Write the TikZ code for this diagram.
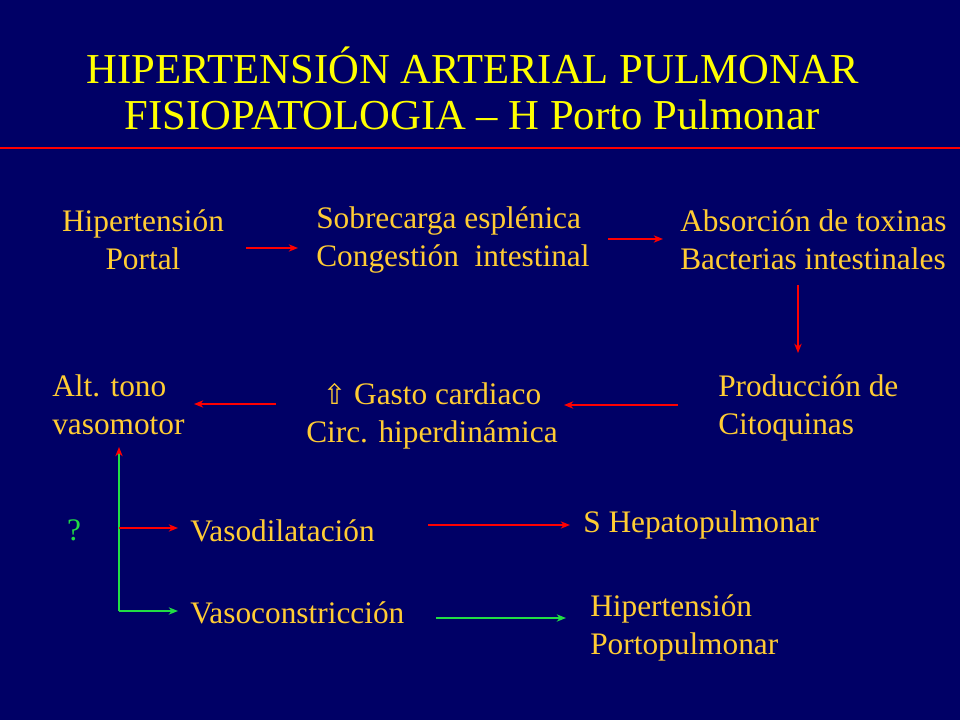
\documentclass[tikz,border=0pt]{standalone}
\usepackage{fontspec}
\setmainfont{Liberation Serif}
\newfontfamily\symfont{DejaVu Sans}
\usetikzlibrary{arrows.meta}
\definecolor{bg}{HTML}{000066}
\definecolor{ttlc}{HTML}{FFFF00}
\definecolor{txt}{HTML}{FFCC33}
\definecolor{ared}{HTML}{FF0000}
\definecolor{agrn}{HTML}{22DD44}
\begin{document}
\begin{tikzpicture}[x=0.75pt,y=-0.75pt,
  body/.style={text=txt, font=\fontsize{23.5}{28.5}\selectfont, inner sep=0pt},
  bodyl/.style={body, align=left, anchor=west},
  bodyc/.style={body, align=center},
  ttl/.style={text=ttlc, font=\fontsize{32}{37.5}\selectfont, inner sep=0pt},
  rarr/.style={draw=ared, line width=1pt, -{Stealth[length=7pt,width=5.5pt]}},
  garr/.style={draw=agrn, line width=1pt, -{Stealth[length=7pt,width=5.5pt]}},
  gup/.style={draw=agrn, line width=1pt, -{Stealth[length=7pt,width=5.5pt,color=ared,fill=ared]}}]
\fill[bg] (0,0) rectangle (960,720);
\useasboundingbox (0,0) rectangle (960,720);

% title
\node[ttl] (t1) at (473,65) {HIPERTENSIÓN ARTERIAL PULMONAR};
\node[ttl] (t2) at (472,115) {FISIOPATOLOGIA – H Porto Pulmonar};
\coordinate (la) at (0,148);
\coordinate (lb) at (960,148);
\draw[ared, line width=1pt] (la) -- (lb);

% row 1
\node[bodyc] (hp) at (143,240) {Hipertensión\\Portal};
\node[bodyl] (sob) at (316,240) {Sobrecarga esplénica\\Congestión\ \ intestinal};
\node[bodyl] (abs) at (680,240) {Absorción de toxinas\\Bacterias intestinales};

% row 2
\node[bodyl] (alt) at (52,405) {Alt. tono\\vasomotor};
\node[bodyc] (gas) at (432,416) {{\symfont\fontsize{21}{24}\selectfont ⇧} Gasto cardiaco\\Circ. hiperdinámica};
\node[bodyl] (pro) at (718,408) {Producción de\\Citoquinas};

% row 3
\node[body, text=agrn] (q) at (74,530) {?};
\node[bodyl] (vd) at (190,531) {Vasodilatación};
\node[bodyl] (vc) at (190,613) {Vasoconstricción};
\node[bodyl] (sh) at (583,525) {S Hepatopulmonar};
\node[bodyl] (hpp) at (590,628) {Hipertensión\\Portopulmonar};

% arrow coordinates
\coordinate (a1s) at (246,248); \coordinate (a1e) at (298,248);
\coordinate (a2s) at (608,239); \coordinate (a2e) at (663,239);
\coordinate (a3s) at (798,285); \coordinate (a3e) at (798,353);
\coordinate (a4s) at (678,405); \coordinate (a4e) at (564,405);
\coordinate (a5s) at (276,404); \coordinate (a5e) at (194,404);
\coordinate (gb) at (119,611); \coordinate (gt) at (119,447);
\coordinate (rb) at (119,528); \coordinate (re) at (178,528);
\coordinate (ge) at (178,611);
\coordinate (a6s) at (428,525); \coordinate (a6e) at (570,525);
\coordinate (a7s) at (436,618); \coordinate (a7e) at (566,618);

\draw[rarr] (a1s) -- (a1e);
\draw[rarr] (a2s) -- (a2e);
\draw[rarr] (a3s) -- (a3e);
\draw[rarr] (a4s) -- (a4e);
\draw[rarr] (a5s) -- (a5e);
\draw[gup] (gb) -- (gt);
\draw[garr] (gb) -- (ge);
\draw[rarr] (rb) -- (re);
\draw[rarr] (a6s) -- (a6e);
\draw[garr] (a7s) -- (a7e);
\end{tikzpicture}
\end{document}
